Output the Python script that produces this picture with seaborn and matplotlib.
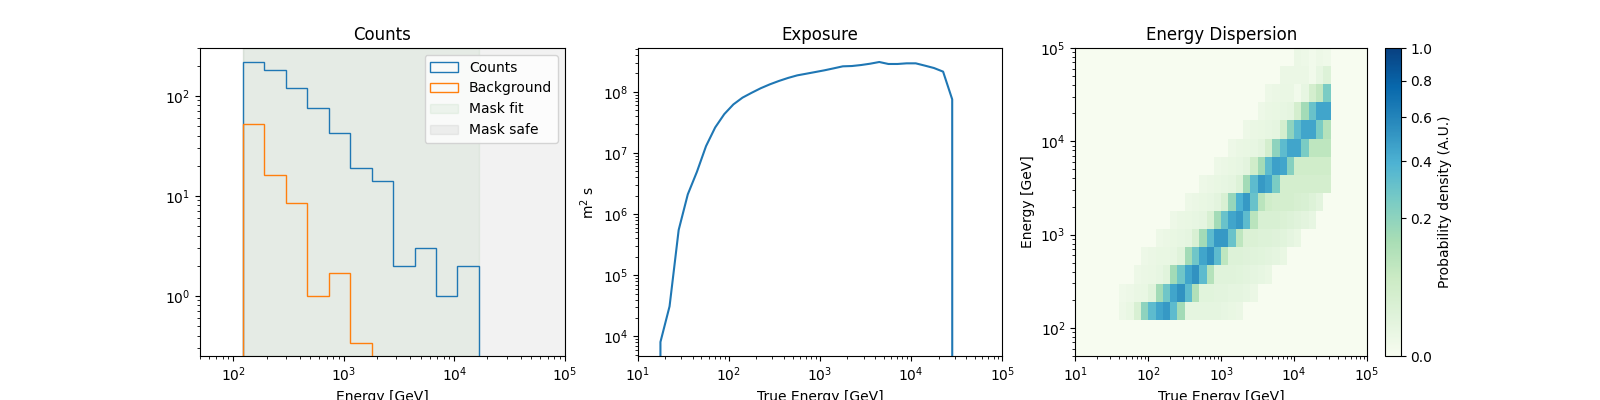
import numpy as np
import matplotlib
matplotlib.use("Agg")
import matplotlib.pyplot as plt
from matplotlib.colors import PowerNorm
import seaborn as sns

# reconstructed energy axis [GeV]
reco_edges = [50, 78.2, 122.3, 191.2, 299.1, 467.7, 731.5, 1144, 1789, 2798,
              4376, 6844, 10704, 16741, 26182, 40947, 64038, 100000]
counts = [0, 0, 216, 181, 119, 75, 42, 19, 14, 2, 3, 1, 2, 0, 0, 0, 0]
background = [0, 0, 52, 16, 8.4, 1.0, 1.7, 0.34, 0, 0, 0, 0, 0, 0, 0, 0, 0]
mask_fit = [0, 0, 1, 1, 1, 1, 1, 1, 1, 1, 1, 1, 1, 0, 0, 0, 0]
mask_safe = [0, 0, 1, 1, 1, 1, 1, 1, 1, 1, 1, 1, 1, 1, 1, 1, 1]

# true energy axis [GeV]
true_edges = [10, 12.59, 15.85, 19.95, 25.12, 31.62, 39.81, 50.12, 63.1, 79.43,
              100, 125.9, 158.5, 199.5, 251.2, 316.2, 398.1, 501.2, 631, 794.3,
              1000, 1259, 1585, 1995, 2512, 3162, 3981, 5012, 6310, 7943,
              10000, 12589, 15849, 19953, 25119, 31623, 39811, 50119, 63096, 79433, 100000]
exposure = [0, 0, 8.1e3, 3.1e4, 5.5e5, 2.1e6, 4.9e6, 1.29e7, 2.6e7, 4.3e7,
            6.2e7, 8.0e7, 9.6e7, 1.14e8, 1.32e8, 1.5e8, 1.68e8, 1.85e8, 1.97e8, 2.1e8,
            2.24e8, 2.41e8, 2.6e8, 2.63e8, 2.73e8, 2.87e8, 3.06e8, 2.84e8, 2.84e8, 2.91e8,
            2.91e8, 2.67e8, 2.44e8, 2.13e8, 7.5e7, 0, 0, 0, 0, 0]

# energy dispersion: reco row -> (first true-energy column, probabilities)
edisp_rows = {
    2: (6, [0.003, 0.006, 0.03, 0.2, 0.34, 0.45, 0.5, 0.34, 0.15,
            0.01, 0.01, 0.01, 0.01, 0.01, 0.008, 0.006, 0.004]),
    3: (6, [0.002, 0.003, 0.005, 0.006, 0.016, 0.15, 0.28, 0.45, 0.53, 0.34, 0.12,
            0.014, 0.014, 0.012, 0.012, 0.01, 0.01, 0.008, 0.004]),
    4: (8, [0.003, 0.004, 0.005, 0.008, 0.014, 0.15, 0.28, 0.45, 0.53, 0.34, 0.11,
            0.016, 0.016, 0.016, 0.014, 0.012, 0.01, 0.008, 0.005]),
    5: (9, [0.003, 0.004, 0.006, 0.006, 0.008, 0.016, 0.15, 0.28, 0.45, 0.53, 0.34, 0.09,
            0.02, 0.02, 0.018, 0.016, 0.014, 0.012, 0.01, 0.006]),
    6: (11, [0.003, 0.004, 0.006, 0.008, 0.01, 0.03, 0.15, 0.34, 0.5, 0.5, 0.3, 0.09,
             0.025, 0.025, 0.02, 0.02, 0.018, 0.014, 0.01, 0.006]),
    7: (13, [0.003, 0.005, 0.006, 0.008, 0.01, 0.03, 0.15, 0.3, 0.45, 0.5, 0.34, 0.1,
             0.03, 0.03, 0.03, 0.025, 0.02, 0.016, 0.012, 0.008]),
    8: (15, [0.003, 0.004, 0.006, 0.008, 0.012, 0.03, 0.18, 0.4, 0.5, 0.3, 0.1, 0.05,
             0.04, 0.04, 0.04, 0.035, 0.03, 0.02, 0.012]),
    9: (17, [0.003, 0.004, 0.006, 0.008, 0.01, 0.02, 0.15, 0.34, 0.5, 0.45, 0.25, 0.04,
             0.04, 0.04, 0.04, 0.04, 0.04, 0.04]),
    10: (19, [0.003, 0.004, 0.006, 0.008, 0.012, 0.05, 0.15, 0.34, 0.47, 0.45, 0.22,
              0.05, 0.05, 0.05, 0.05, 0.05]),
    11: (21, [0.003, 0.005, 0.006, 0.008, 0.012, 0.04, 0.2, 0.34, 0.45, 0.45, 0.25,
              0.09, 0.09, 0.09]),
    12: (23, [0.003, 0.005, 0.006, 0.008, 0.01, 0.04, 0.2, 0.34, 0.45, 0.45, 0.25, 0.11]),
    13: (25, [0.003, 0.005, 0.006, 0.008, 0.01, 0.04, 0.15, 0.3, 0.45, 0.45]),
    14: (26, [0.003, 0.004, 0.005, 0.005, 0.001, 0.008, 0.04, 0.08, 0.25]),
    15: (28, [0.004, 0.004, 0.004, 0.004, 0.001, 0.008, 0.02]),
    16: (30, [0.004, 0.003, 0.001, 0.003, 0.002]),
}

reco_centers = np.sqrt(np.array(reco_edges[:-1]) * np.array(reco_edges[1:]))
true_centers = np.sqrt(np.array(true_edges[:-1]) * np.array(true_edges[1:]))

edisp = np.zeros((len(reco_edges) - 1, len(true_edges) - 1))
for row, (start, vals) in edisp_rows.items():
    edisp[row, start:start + len(vals)] = vals

colors = sns.color_palette()

fig, axes = plt.subplots(1, 3, figsize=(16, 4), dpi=100)

# COUNTS
ax = axes[0]
ax.set_xscale("log")
ax.set_yscale("log")
h_counts = ax.hist(reco_centers, bins=reco_edges, weights=counts, histtype="step",
                   color=colors[0], label="Counts")[2][0]
h_bkg = ax.hist(reco_centers, bins=reco_edges, weights=background, histtype="step",
                color=colors[1], label="Background")[2][0]
idx = np.flatnonzero(mask_fit)
h_fit = ax.axvspan(reco_edges[idx[0]], reco_edges[idx[-1] + 1], color="green",
                   alpha=0.05, label="Mask fit", zorder=0)
idx = np.flatnonzero(mask_safe)
h_safe = ax.axvspan(reco_edges[idx[0]], reco_edges[idx[-1] + 1], color="k",
                    alpha=0.05, label="Mask safe", zorder=0)
ax.set_xlim(reco_edges[0], reco_edges[-1])
ax.set_ylim(0.25, 300)
ax.set_xlabel("Energy [GeV]")
ax.set_title("Counts")
ax.legend(handles=[h_counts, h_bkg, h_fit, h_safe], loc="upper right")

# EXPOSURE
ax = axes[1]
sns.lineplot(x=true_centers, y=exposure, ax=ax, color=colors[0], estimator=None)
ax.set_xscale("log")
ax.set_yscale("log")
ax.set_xlim(true_edges[0], true_edges[-1])
ax.set_xlabel("True Energy [GeV]")
ax.set_ylabel("m$^2$ s")
ax.set_title("Exposure")

# ENERGY DISPERSION
ax = axes[2]
mesh = ax.pcolormesh(true_edges, reco_edges, edisp, cmap="GnBu",
                     norm=PowerNorm(gamma=0.5, vmin=0, vmax=1))
ax.set_xscale("log")
ax.set_yscale("log")
ax.set_xlim(true_edges[0], true_edges[-1])
ax.set_ylim(reco_edges[0], reco_edges[-1])
ax.set_xlabel("True Energy [GeV]")
ax.set_ylabel("Energy [GeV]")
ax.set_title("Energy Dispersion")
cbar = fig.colorbar(mesh, ax=ax, label="Probability density (A.U.)")
cbar.set_ticks([0.0, 0.2, 0.4, 0.6, 0.8, 1.0])

fig.savefig("out.png")
